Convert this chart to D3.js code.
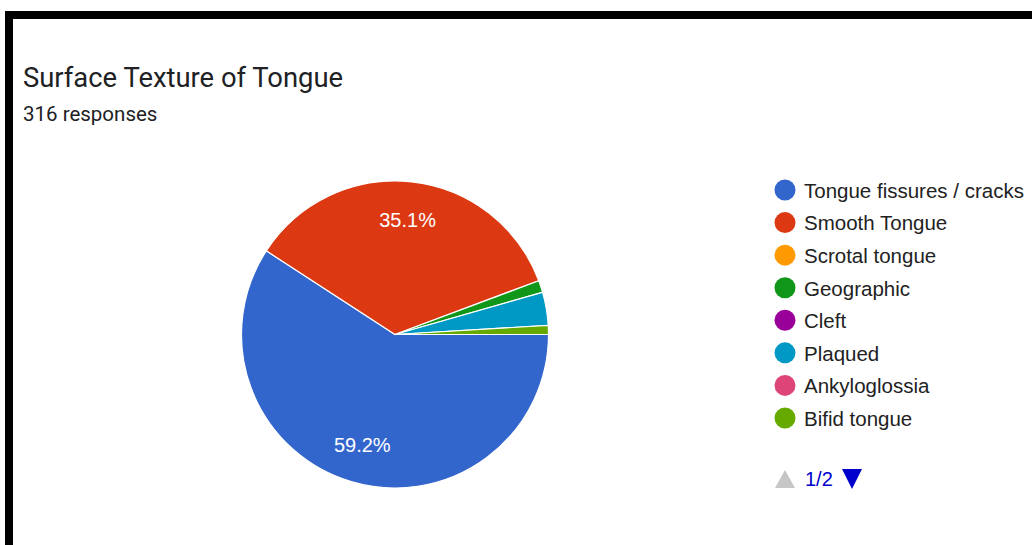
<!DOCTYPE html>
<html>
<head>
<meta charset="utf-8">
<script src="https://cdn.jsdelivr.net/npm/d3@7"></script>
<style>
  body { margin: 0; background: #fff; }
  svg { display: block; }
</style>
</head>
<body>
<svg id="chart"></svg>
<script>
// Data (316 responses)
const categories = ["Tongue fissures / cracks", "Smooth Tongue", "Scrotal tongue", "Geographic",
  "Cleft", "Plaqued", "Ankyloglossia", "Bifid tongue"];
const counts = [187, 111, 0, 4, 0, 11, 0, 3];
const colors = ["#3366cc", "#dc3912", "#ff9900", "#109618", "#990099", "#0099c6", "#dd4477", "#66aa00"];
const totalResponses = 316;

const W = 1032, H = 545;
const svg = d3.select("#chart").attr("width", W).attr("height", H);

// black frame (top and left edges visible)
svg.append("rect").attr("x", 5).attr("y", 11).attr("width", W).attr("height", 8).attr("fill", "#000");
svg.append("rect").attr("x", 5).attr("y", 11).attr("width", 8).attr("height", H).attr("fill", "#000");

// Title
svg.append("text")
  .attr("x", 23).attr("y", 87)
  .style("font-family", "Roboto, Arial, sans-serif")
  .style("font-size", "27.4px")
  .attr("fill", "#202124")
  .text("Surface Texture of Tongue");

svg.append("text")
  .attr("x", 23).attr("y", 121)
  .style("font-family", "Roboto, Arial, sans-serif")
  .style("font-size", "20.5px")
  .attr("fill", "#202124")
  .text(`${totalResponses} responses`);

// Pie
const cx = 395, cy = 334.5, r = 153.5;
const g = svg.append("g").attr("transform", `translate(${cx},${cy})`);

const pie = d3.pie().sort(null).value(d => d.v)
  .startAngle(Math.PI / 2).endAngle(Math.PI / 2 + 2 * Math.PI);
const arcs = pie(categories.map((c, i) => ({ c, v: counts[i], color: colors[i] })));
const arc = d3.arc().innerRadius(0).outerRadius(r);
const labelArc = d3.arc().innerRadius(r * 0.75).outerRadius(r * 0.75);

g.selectAll("path")
  .data(arcs.filter(d => d.data.v > 0))
  .enter().append("path")
  .attr("d", arc)
  .attr("fill", d => d.data.color)
  .attr("stroke", "#fff")
  .attr("stroke-width", 1.2);

const total = d3.sum(counts);
g.selectAll("text.lbl")
  .data(arcs.filter(d => d.data.v / total > 0.05))
  .enter().append("text")
  .attr("class", "lbl")
  .attr("transform", d => `translate(${labelArc.centroid(d)})`)
  .attr("text-anchor", "middle")
  .attr("dy", "0.35em")
  .attr("fill", "#fff")
  .style("font-family", "Arial, 'Liberation Sans', sans-serif")
  .style("font-size", "20px")
  .text(d => (d.data.v / total * 100).toFixed(1) + "%");

// Legend
const legendY = d3.scalePoint().domain(categories).range([190, 418]);
const legend = svg.append("g");
const items = legend.selectAll("g")
  .data(categories)
  .enter().append("g")
  .attr("transform", d => `translate(785,${legendY(d)})`);

items.append("circle")
  .attr("r", 10.5)
  .attr("fill", (d, i) => colors[i]);

items.append("text")
  .attr("x", 19)
  .attr("dy", "0.38em")
  .style("font-family", "Arial, 'Liberation Sans', sans-serif")
  .style("font-size", "20.5px")
  .attr("fill", "#222")
  .text(d => d);

// Pagination
const pager = svg.append("g").attr("transform", "translate(785,479)");
pager.append("path").attr("d", "M-10,9 L10,9 L0,-9 Z").attr("fill", "#c6c6c6");
pager.append("text")
  .attr("x", 20).attr("dy", "0.35em")
  .style("font-family", "Arial, 'Liberation Sans', sans-serif")
  .style("font-size", "20px")
  .attr("fill", "#0000cc")
  .text("1/2");
pager.append("path").attr("d", "M57,-10 L77,-10 L67,10 Z").attr("fill", "#0000cc");
</script>
</body>
</html>
